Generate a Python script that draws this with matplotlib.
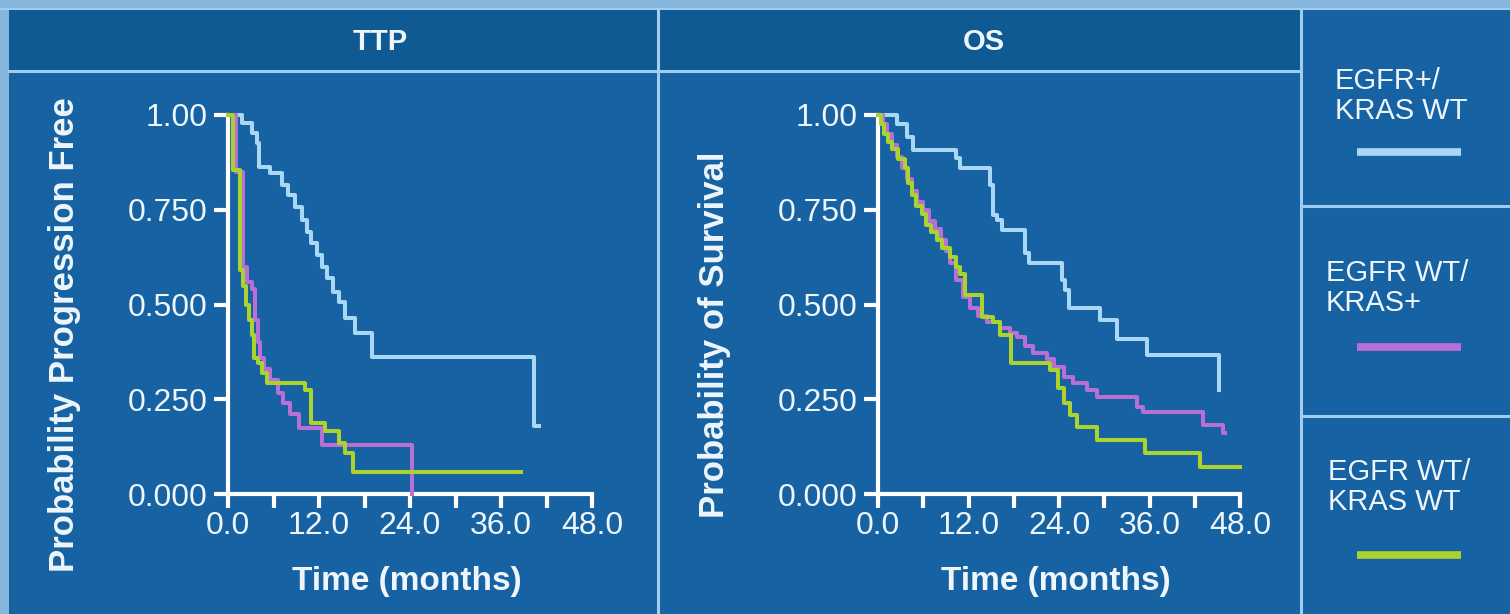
#!/usr/bin/env python3

import matplotlib
matplotlib.use("Agg")
import matplotlib.pyplot as plt
from matplotlib.patches import Rectangle

plt.rcParams['font.family'] = ['Liberation Sans', 'DejaVu Sans']

################################################################################
# Kaplan-Meier curves (months, probability)

groups = ["EGFR+/\nKRAS WT", "EGFR WT/\nKRAS+", "EGFR WT/\nKRAS WT"]

# TTP
ttp_blue_t = [0, 1.8, 3.1, 3.8, 4.1, 5.5, 7.1, 7.9, 8.8, 9.7, 10.4, 11.0, 11.7,
              12.4, 13.0, 13.9, 14.6, 15.4, 16.8, 19.0, 40.3, 41.0]
ttp_blue_p = [1.0, 0.978, 0.952, 0.926, 0.864, 0.846, 0.815, 0.789, 0.758, 0.723,
              0.692, 0.662, 0.63, 0.60, 0.57, 0.534, 0.507, 0.464, 0.424, 0.362,
              0.18, 0.18]

ttp_purple_t = [0, 1.0, 2.0, 2.5, 3.1, 3.6, 4.0, 4.2, 4.8, 5.5, 6.6, 7.3, 8.2,
                9.3, 12.4, 24.2]
ttp_purple_p = [1.0, 0.85, 0.60, 0.56, 0.54, 0.46, 0.40, 0.36, 0.33, 0.30, 0.266,
                0.24, 0.21, 0.173, 0.129, 0.0]

ttp_green_t = [0, 0.6, 1.6, 2.0, 2.4, 2.8, 3.1, 3.4, 4.0, 4.5, 5.1, 10.2, 10.9,
               12.8, 14.6, 15.4, 16.5, 38.7]
ttp_green_p = [1.0, 0.855, 0.59, 0.55, 0.50, 0.46, 0.42, 0.36, 0.345, 0.32, 0.292,
               0.275, 0.187, 0.165, 0.134, 0.107, 0.059, 0.059]

# OS
os_blue_t = [0, 2.5, 3.8, 4.7, 10.4, 10.9, 14.9, 15.3, 15.8, 16.4, 19.5, 20.0,
             24.4, 24.8, 25.3, 29.5, 31.7, 35.7, 45.2]
os_blue_p = [1.0, 0.975, 0.943, 0.908, 0.886, 0.86, 0.815, 0.736, 0.723, 0.697,
             0.635, 0.609, 0.565, 0.538, 0.49, 0.46, 0.41, 0.367, 0.274]

os_purple_t = [0, 0.6, 1.2, 1.8, 2.5, 3.2, 3.8, 4.5, 5.2, 6.0, 6.7, 7.5, 8.3, 9.0,
               9.5, 10.4, 11.3, 12.2, 13.3, 14.5, 16.2, 17.5, 18.4, 19.5, 20.6,
               22.4, 23.3, 24.6, 25.9, 27.7, 29.0, 34.3, 35.2, 43.1, 45.8, 46.0]
os_purple_p = [1.0, 0.975, 0.95, 0.92, 0.89, 0.86, 0.83, 0.80, 0.77, 0.75, 0.72,
               0.70, 0.67, 0.64, 0.61, 0.565, 0.52, 0.49, 0.47, 0.455, 0.438,
               0.425, 0.415, 0.39, 0.372, 0.355, 0.336, 0.31, 0.292, 0.274, 0.257,
               0.23, 0.216, 0.182, 0.16, 0.16]

os_green_t = [0, 0.4, 0.8, 1.3, 1.8, 2.6, 3.6, 4.0, 4.5, 5.0, 5.8, 6.3, 7.0, 7.8,
              8.5, 9.5, 10.3, 10.9, 11.5, 13.8, 15.2, 16.2, 17.7, 22.8, 23.9,
              24.6, 25.5, 26.4, 29.0, 35.4, 42.7, 48.0]
os_green_p = [1.0, 0.975, 0.95, 0.93, 0.91, 0.885, 0.86, 0.82, 0.79, 0.76, 0.74,
              0.71, 0.69, 0.67, 0.65, 0.626, 0.60, 0.58, 0.525, 0.468, 0.455,
              0.42, 0.345, 0.327, 0.279, 0.239, 0.208, 0.178, 0.142, 0.107, 0.072,
              0.072]

y_ticks = [0.0, 0.25, 0.5, 0.75, 1.0]
y_ticklabels = ["0.000", "0.250", "0.500", "0.750", "1.00"]
x_ticks = [0, 12, 24, 36, 48]
x_ticklabels = ["0.0", "12.0", "24.0", "36.0", "48.0"]
x_minor = [6, 18, 30, 42]

################################################################################

OUTER = "#86b6dc"
BODY = "#1762a2"
HEAD = "#105a94"
SEP = "#9fcdf2"
BLUE = "#a9d8f6"
PURPLE = "#b86fd6"
GREEN = "#acd22e"
WHITE = "white"
TXT = "#eef6fc"

W, H = 1510, 614
fig = plt.figure(figsize=(W / 100, H / 100), dpi=100)
fig.patch.set_facecolor(OUTER)

# background boxes, pixel coords
bg = fig.add_axes([0, 0, 1, 1], zorder=-1)
bg.set_xlim(0, W)
bg.set_ylim(H, 0)
bg.axis('off')
bg.add_patch(Rectangle((9, 9), W, H, color=BODY, lw=0))
bg.add_patch(Rectangle((9, 9), 1292, 62, color=HEAD, lw=0))
bg.plot([9, 1301], [71, 71], color=SEP, lw=2.2)
bg.plot([658, 658], [9, H], color=SEP, lw=2.2)
bg.plot([1301, 1301], [9, H], color=SEP, lw=2.2)
bg.plot([1301, W], [206, 206], color=SEP, lw=2.2)
bg.plot([1301, W], [416, 416], color=SEP, lw=2.2)
bg.plot([0, W], [9, 9], color=SEP, lw=1.5)

bg.text(380, 42, "TTP", color=TXT, fontsize=21, fontweight='bold',
        ha='center', va='center')
bg.text(984, 42, "OS", color=TXT, fontsize=21, fontweight='bold',
        ha='center', va='center')

# legend column
colors = [BLUE, PURPLE, GREEN]
text_y = [96, 288, 487]
swatch_y = [152, 347, 555]
text_x = [1335, 1326, 1328]
for g, c, ty, sy, tx in zip(groups, colors, text_y, swatch_y, text_x):
    bg.text(tx, ty, g, color=TXT, fontsize=21, ha='left', va='center',
            linespacing=1.05)
    bg.plot([1357, 1461], [sy, sy], color=c, lw=5.5, solid_capstyle='butt')


def km_axes(rect, curves, ylabel):
    ax = fig.add_axes(rect)
    ax.set_facecolor('none')
    for t, p, c in curves:
        ax.step(t, p, where='post', color=c, lw=2.9, clip_on=False, zorder=3)
    ax.set_xlim(0, 48)
    ax.set_ylim(0, 1)
    for s in ['top', 'right']:
        ax.spines[s].set_visible(False)
    for s in ['left', 'bottom']:
        ax.spines[s].set_color(WHITE)
        ax.spines[s].set_linewidth(3)
    ax.set_yticks(y_ticks)
    ax.set_yticklabels(y_ticklabels)
    ax.set_xticks(x_ticks)
    ax.set_xticklabels(x_ticklabels)
    ax.set_xticks(x_minor, minor=True)
    ax.tick_params(which='both', colors=WHITE, width=3, length=10,
                   labelsize=23, labelcolor=TXT)
    ax.tick_params(axis='y', pad=5)
    ax.tick_params(axis='x', pad=2)
    ax.set_xlabel("Time (months)", color=TXT, fontsize=24, fontweight='bold')
    ax.xaxis.set_label_coords(0.49, -0.19)
    ax.set_ylabel(ylabel, color=TXT, fontsize=25, fontweight='bold')
    ax.yaxis.set_label_coords(-0.405, 0.42)
    return ax


bottom = 1 - 494 / H
height = 379 / H

km_axes([228 / W, bottom, 364 / W, height],
        [(ttp_blue_t, ttp_blue_p, BLUE),
         (ttp_purple_t, ttp_purple_p, PURPLE),
         (ttp_green_t, ttp_green_p, GREEN)],
        "Probability Progression Free")

km_axes([878 / W, bottom, 362 / W, height],
        [(os_blue_t, os_blue_p, BLUE),
         (os_purple_t, os_purple_p, PURPLE),
         (os_green_t, os_green_p, GREEN)],
        "Probability of Survival")

fig.savefig("out.png", dpi=100, facecolor=fig.get_facecolor())
